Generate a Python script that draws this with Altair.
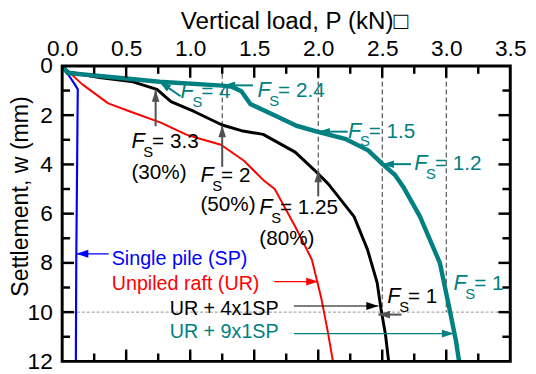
import math
import altair as alt
import pandas as pd

# ---------------- data ----------------
# Single pile (SP)
sp_P = [0.0, 0.03, 0.06, 0.095, 0.122, 0.12, 0.115, 0.11, 0.107]
sp_w = [0.0, 0.2, 0.45, 0.72, 0.95, 2.0, 5.0, 8.0, 12.0]
# Unpiled raft (UR)
ur_P = [0.0, 0.16, 0.36, 0.53, 0.77, 0.97, 1.07, 1.24, 1.42, 1.57, 1.66, 1.82, 1.95, 2.025, 2.075, 2.115]
ur_w = [0.0, 0.76, 1.52, 1.85, 2.3, 2.79, 2.95, 3.2, 3.85, 4.63, 5.0, 6.52, 7.86, 9.46, 10.8, 12.0]
# UR + 4x1SP
p4_P = [0.0, 0.05, 0.29, 0.54, 0.74, 0.85, 1.03, 1.25, 1.4, 1.57, 1.82, 1.97, 2.08, 2.18, 2.28, 2.385, 2.46, 2.49, 2.525, 2.55]
p4_w = [0.0, 0.25, 0.47, 0.63, 0.95, 1.45, 1.85, 2.4, 2.63, 2.78, 3.5, 4.23, 4.8, 5.46, 6.12, 7.46, 8.8, 9.86, 10.9, 12.0]
# UR + 9x1SP
p9_P = [0.0, 0.043, 0.52, 0.76, 1.25, 1.32, 1.40, 1.47, 1.67, 1.83, 1.99, 2.21, 2.39, 2.505, 2.6, 2.67, 2.795, 2.95, 3.025, 3.077, 3.1]
p9_w = [0.0, 0.29, 0.52, 0.64, 0.8, 0.84, 1.03, 1.55, 2.03, 2.43, 2.67, 2.96, 3.43, 4.0, 4.43, 4.96, 6.12, 8.0, 9.86, 11.2, 12.0]

# dashed reference lines (load levels)
dash_P = [1.25, 2.0, 2.5, 3.0]
dash_w_end = [2.4, 4.23, 10.0, 10.0]
hline_w = [10.0]

# F_S labels: F anchor (left, baseline), remaining text
fs_P = [0.541, 1.08, 1.54, 2.54, 0.925, 1.525, 2.233, 2.75, 3.057]
fs_w = [3.35, 4.71, 6.03, 9.63, 1.31, 1.27, 2.91, 4.23, 9.11]
fs_rest = ["= 3.3", "= 2", "= 1.25", "= 1", "= 4", "= 2.4", "= 1.5", "= 1.2", "= 1"]
fs_kind = ["k", "k", "k", "k", "t", "t", "t", "t", "t"]

pct_P = [0.541, 1.08, 1.54]
pct_w = [4.59, 5.91, 7.27]
pct_text = ["(30%)", "(50%)", "(80%)"]

leg_text = ["Single pile (SP)", "Unpiled raft (UR)", "UR + 4x1SP", "UR + 9x1SP"]
leg_P = [0.387, 0.387, 0.84, 0.84]
leg_w = [8.07, 9.1, 10.1, 11.07]
leg_kind = ["b", "r", "k", "t"]

# arrows: tail -> tip
arr_P0 = [0.73, 1.25, 2.0, 2.65, 0.925, 1.49, 2.23, 2.725, 0.364, 1.656, 1.81, 1.81]
arr_w0 = [2.45, 4.1, 5.3, 10.1, 1.23, 0.79, 2.67, 3.99, 7.63, 8.76, 9.75, 10.87]
arr_P1 = [0.73, 1.25, 2.0, 2.47, 0.76, 1.26, 2.0, 2.5, 0.11, 2.0, 2.47, 3.06]
arr_w1 = [0.98, 2.42, 4.25, 10.1, 0.64, 0.79, 2.67, 3.99, 7.63, 8.76, 9.75, 10.87]
arr_kind = ["g", "g", "g", "g", "t", "t", "t", "t", "b", "r", "k", "t"]
arr_thin = [False, False, False, False, False, False, False, False, True, True, True, True]

# axis tick positions
xt_major = [0.5, 1.0, 1.5, 2.0, 2.5, 3.0]
xt_minor = [0.25, 0.75, 1.25, 1.75, 2.25, 2.75, 3.25]
yt_major = [2, 4, 6, 8, 10]
yt_minor = [1, 3, 5, 7, 9, 11]

# ---------------- styling ----------------
W, H = 455, 300
P_MAX, W_MAX = 3.5, 12.0
FONT = "Liberation Sans"
COLORS = {"k": "#000000", "t": "#008080", "r": "#ff0000", "b": "#0000ff", "g": "#505050"}
MAJ, MIN, TW = 12, 8, 2.5  # tick lengths / width in px

series = [
    ("Single pile (SP)", sp_P, sp_w, COLORS["b"], 2.2),
    ("Unpiled raft (UR)", ur_P, ur_w, COLORS["r"], 2.0),
    ("UR + 4x1SP", p4_P, p4_w, COLORS["k"], 3.0),
    ("UR + 9x1SP", p9_P, p9_w, COLORS["t"], 4.5),
]
rows = []
for name, ps, ws, col, sw in series:
    for i, (p, w) in enumerate(zip(ps, ws)):
        rows.append(dict(series=name, P=p, w=w, i=i, col=col, sw=sw))
curves = pd.DataFrame(rows)

dashes = pd.DataFrame(dict(P=dash_P, w0=[0.0] * len(dash_P), w1=dash_w_end))
hline = pd.DataFrame(dict(w=hline_w, P0=[0.0], P1=[P_MAX]))

fs_df = pd.DataFrame(dict(P=fs_P, w=fs_w, rest=fs_rest, col=[COLORS[k] for k in fs_kind]))
pct_df = pd.DataFrame(dict(P=pct_P, w=pct_w, txt=pct_text))
leg_df = pd.DataFrame(dict(P=leg_P, w=leg_w, txt=leg_text, col=[COLORS[k] for k in leg_kind]))

sx, sy = W / P_MAX, H / W_MAX
angles, sws, hsz, cols = [], [], [], []
for p0, w0, p1, w1, k, thin in zip(arr_P0, arr_w0, arr_P1, arr_w1, arr_kind, arr_thin):
    a = math.degrees(math.atan2((w1 - w0) * sy, (p1 - p0) * sx)) % 360
    angles.append(a)
    sws.append(1.2 if thin else 2.0)
    hsz.append(150 if thin else 140)
    cols.append(COLORS[k])
arrows = pd.DataFrame(dict(P0=arr_P0, w0=arr_w0, P1=arr_P1, w1=arr_w1,
                           ang=angles, sw=sws, hs=hsz, col=cols))

# inward tick segments, lengths converted from px to data units
trows = []
for vals, ln in ((xt_major, MAJ), (xt_minor, MIN)):
    for v in vals:
        trows.append(dict(P0=v, P1=v, w0=0.0, w1=ln / sy))
        trows.append(dict(P0=v, P1=v, w0=W_MAX, w1=W_MAX - ln / sy))
for vals, ln in ((yt_major, MAJ), (yt_minor, MIN)):
    for v in vals:
        trows.append(dict(P0=0.0, P1=ln / sx, w0=v, w1=v))
        trows.append(dict(P0=P_MAX, P1=P_MAX - ln / sx, w0=v, w1=v))
ticks = pd.DataFrame(trows)
frame = pd.DataFrame(dict(P0=[0.0], P1=[P_MAX], w0=[0.0], w1=[W_MAX]))

xs = alt.Scale(domain=[0, P_MAX], nice=False, zero=False)
ys = alt.Scale(domain=[0, W_MAX], nice=False, reverse=True)
xaxis = alt.Axis(orient="top", values=[0, 0.5, 1.0, 1.5, 2.0, 2.5, 3.0, 3.5], format=".1f",
                 title="Vertical load, P (kN)\u25a1", ticks=False, domain=False, grid=False,
                 labelFontSize=23, labelPadding=11, labelBaseline="alphabetic", labelFlush=False,
                 labelColor="black", titleFontSize=24.5, titleFontWeight="normal", titleColor="black",
                 titleAlign="left", titleAnchor="start", titleBaseline="alphabetic",
                 titleX=120, titleY=-38, labelOverlap=False)
yaxis = alt.Axis(orient="left", values=[0, 2, 4, 6, 8, 10, 12], format="d",
                 title="Settlement, w (mm)", ticks=False, domain=False, grid=False,
                 labelFontSize=23, labelPadding=10, labelFlush=False, labelColor="black",
                 titleFontSize=23.5, titleFontWeight="normal", titleColor="black",
                 titleAngle=270, titleAlign="center", titleBaseline="alphabetic",
                 titleX=-35, titleY=132, labelOverlap=False)


def X(f):
    return alt.X(f"{f}:Q", scale=xs, axis=xaxis)


def Y(f):
    return alt.Y(f"{f}:Q", scale=ys, axis=yaxis)


dash_layer = alt.Chart(dashes).mark_rule(color="#333333", strokeWidth=1, strokeDash=[5, 3]).encode(
    x=X("P"), y=Y("w0"), y2="w1")
hline_layer = alt.Chart(hline).mark_rule(color="#777777", strokeWidth=0.8, strokeDash=[3, 2]).encode(
    y=Y("w"), x=X("P0"), x2="P1")

lines = alt.Chart(curves).mark_line(clip=True, strokeJoin="round").encode(
    x=X("P"), y=Y("w"), detail="series:N", order="i:Q",
    color=alt.Color("col:N", scale=None),
    strokeWidth=alt.StrokeWidth("sw:Q", scale=None))

shafts = alt.Chart(arrows).mark_rule().encode(
    x=X("P0"), y=Y("w0"), x2="P1", y2="w1",
    color=alt.Color("col:N", scale=None),
    strokeWidth=alt.StrokeWidth("sw:Q", scale=None))
heads = alt.Chart(arrows).mark_point(shape="M0,0L-2,-0.65L-2,0.65Z", filled=True, opacity=1).encode(
    x=X("P1"), y=Y("w1"),
    color=alt.Color("col:N", scale=None),
    angle=alt.Angle("ang:Q", scale=None),
    size=alt.Size("hs:Q", scale=None))

f_layer = alt.Chart(fs_df).mark_text(text="F", align="left", baseline="alphabetic",
                                     fontStyle="italic", fontSize=22).encode(
    x=X("P"), y=Y("w"), color=alt.Color("col:N", scale=None))
s_layer = alt.Chart(fs_df).mark_text(text="S", align="left", baseline="alphabetic",
                                     fontSize=15, dx=12, dy=9).encode(
    x=X("P"), y=Y("w"), color=alt.Color("col:N", scale=None))
rest_layer = alt.Chart(fs_df).mark_text(align="left", baseline="alphabetic",
                                        fontSize=21, dx=21).encode(
    x=X("P"), y=Y("w"), text="rest:N", color=alt.Color("col:N", scale=None))
pct_layer = alt.Chart(pct_df).mark_text(align="left", baseline="alphabetic", fontSize=21,
                                        color="black").encode(
    x=X("P"), y=Y("w"), text="txt:N")
leg_layer = alt.Chart(leg_df).mark_text(align="left", baseline="alphabetic", fontSize=20).encode(
    x=X("P"), y=Y("w"), text="txt:N", color=alt.Color("col:N", scale=None))

tick_layer = alt.Chart(ticks).mark_rule(color="black", strokeWidth=TW).encode(
    x=X("P0"), x2="P1", y=Y("w0"), y2="w1")
frame_layer = alt.Chart(frame).mark_rect(filled=False, stroke="black", strokeWidth=3,
                                         fillOpacity=0).encode(
    x=X("P0"), x2="P1", y=Y("w0"), y2="w1")

chart = alt.layer(
    dash_layer, hline_layer, lines, shafts, heads,
    f_layer, s_layer, rest_layer, pct_layer, leg_layer, tick_layer, frame_layer
).properties(
    width=W, height=H,
    autosize=alt.AutoSizeParams(type="none"),
    padding={"left": 55, "top": 56, "right": 18, "bottom": 10},
    background="white",
).configure(font=FONT).configure_view(strokeWidth=0)

chart.save("out.html", embed_options={"renderer": "svg", "actions": False})
